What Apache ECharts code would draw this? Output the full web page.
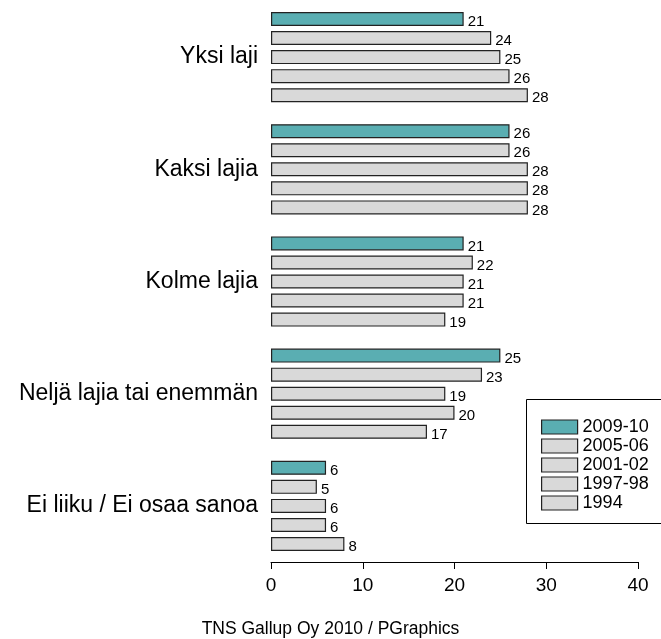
<!DOCTYPE html>
<html lang="fi">
<head>
  <meta charset="utf-8">
  <title>Lajien määrä</title>
  <script src="https://cdn.jsdelivr.net/npm/echarts@6/dist/echarts.min.js"></script>
  <style>
    html, body { margin: 0; padding: 0; background: #fff; }
    #chart { width: 661px; height: 639px; }
  </style>
</head>
<body>
  <div id="chart"></div>
  <script>
    // kategoriat ylhäältä alas
    var categories = ['Yksi laji', 'Kaksi lajia', 'Kolme lajia', 'Neljä lajia tai enemmän', 'Ei liiku / Ei osaa sanoa'];
    var years = ['2009-10', '2005-06', '2001-02', '1997-98', '1994'];
    var v2009 = [21, 26, 21, 25, 6];
    var v2005 = [24, 26, 22, 23, 5];
    var v2001 = [25, 28, 21, 19, 6];
    var v1997 = [26, 28, 21, 20, 6];
    var v1994 = [28, 28, 19, 17, 8];
    var xTicks = [0, 10, 20, 30, 40];

    var allValues = [v2009, v2005, v2001, v1997, v1994];
    var teal = '#5aaeb2';
    var grey = '#d9d9d9';
    var font = 'Liberation Sans, Arial, Helvetica, sans-serif';

    var chart = echarts.init(document.getElementById('chart'));

    var series = years.map(function (y, i) {
      return {
        name: y,
        type: 'bar',
        data: allValues[i],
        barWidth: 14,
        barGap: '36%',
        itemStyle: {
          color: i === 0 ? teal : grey,
          borderColor: '#222',
          borderWidth: 1.2
        },
        label: {
          show: true,
          position: 'right',
          distance: 4,
          offset: [0, 3],
          color: '#000',
          fontFamily: font,
          fontSize: 15
        },
        emphasis: { disabled: true },
        animation: false
      };
    });

    var option = {
      animation: false,
      title: {
        text: 'TNS Gallup Oy 2010 / PGraphics',
        left: 'center',
        top: 620,
        padding: 0,
        textStyle: { fontFamily: font, fontSize: 17.5, fontWeight: 'normal', color: '#000' }
      },
      legend: {
        data: years,
        orient: 'vertical',
        left: 541,
        top: 418,
        padding: 0,
        icon: 'rect',
        itemWidth: 36,
        itemHeight: 14,
        itemGap: 1,
        itemStyle: { borderColor: '#222', borderWidth: 1.2 },
        textStyle: { fontFamily: font, fontSize: 18, color: '#000' },
        selectedMode: false
      },
      graphic: [{
        type: 'rect',
        shape: { x: 526.5, y: 399.5, width: 145, height: 124 },
        style: { fill: '#fff', stroke: '#000', lineWidth: 1 },
        z: 0
      }],
      grid: { left: 271, right: 23, top: 1, height: 561 },
      xAxis: {
        type: 'value',
        min: xTicks[0],
        max: xTicks[xTicks.length - 1],
        interval: 10,
        splitLine: { show: false },
        axisLine: { show: true, lineStyle: { color: '#000', width: 1 } },
        axisTick: { show: true, length: 7, lineStyle: { color: '#000' } },
        axisLabel: { color: '#000', fontFamily: font, fontSize: 19, margin: 14 }
      },
      yAxis: {
        type: 'category',
        data: categories,
        inverse: true,
        axisLine: { show: false },
        axisTick: { show: false },
        axisLabel: { color: '#000', fontFamily: font, fontSize: 23, margin: 13 }
      },
      series: series
    };

    chart.setOption(option);
  </script>
</body>
</html>
